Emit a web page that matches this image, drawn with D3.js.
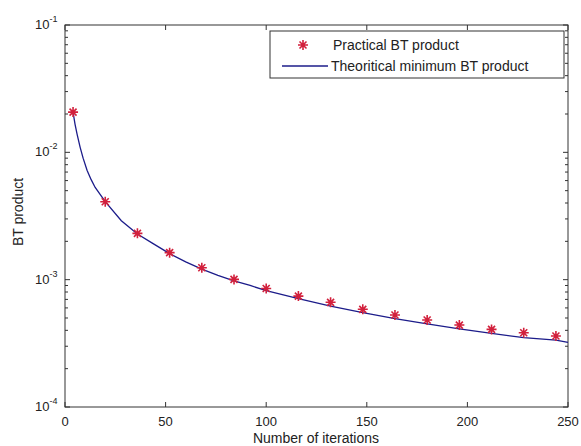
<!DOCTYPE html>
<html lang="en">
<head>
    <meta charset="utf-8"/>
    <title>BT product</title>
    <script src="https://d3js.org/d3.v7.min.js"></script>
    <style>
        body { margin: 0; background: #fff; }
        text { font-family: "Liberation Sans", Arial, sans-serif; font-size: 13px; fill: #222; }
        .title { font-size: 14px; }
    </style>
</head>
<body>
<svg id="chart" width="581" height="446"></svg>
<script>
    // practical points (red asterisks)
    const practicalX = [4, 20, 36, 52, 68, 84, 100, 116, 132, 148, 164, 180, 196, 212, 228, 244];
    const practicalY = [0.0207, 0.00409, 0.00231, 0.00163, 0.00124, 0.001005, 0.000853, 0.000743,
        0.000664, 0.000585, 0.000528, 0.000482, 0.00044, 0.000407, 0.000383, 0.000361];

    // theoretical minimum curve (blue line)
    const theoryX = [4, 5, 6, 7.5, 9, 11, 13, 15, 20, 28, 36, 44, 52, 60, 68, 76, 84, 92, 100,
        116, 132, 148, 164, 180, 196, 212, 228, 244, 250];
    const theoryY = [0.0207, 0.0166, 0.0139, 0.0110, 0.0090, 0.0072, 0.0061, 0.0053, 0.0041, 0.0029, 0.00228,
        0.00191, 0.0016, 0.00138, 0.00121, 0.00108, 0.00098, 0.0009, 0.00082,
        0.00071, 0.00062, 0.00055, 0.000495, 0.00045, 0.00041, 0.000378, 0.00035, 0.000335, 0.000322];

    const xTicks = [0, 50, 100, 150, 200, 250];
    const yDecades = [-4, -3, -2, -1];

    const svg = d3.select("#chart");
    // plot box edges in pixels
    const plotL = 65, plotT = 25, plotR = 568, plotB = 407;

    const x = d3.scaleLinear().domain([0, 250]).range([plotL, plotR]);
    const y = d3.scaleLog().domain([1e-4, 1e-1]).range([plotB, plotT]);

    const lineColor = "#1c1c8a";
    const markColor = "#d2203c";

    // minor ticks for the log axis
    const minor = [];
    yDecades.slice(0, 3).forEach(e => {
        for (let m = 2; m <= 9; m++) minor.push(m * Math.pow(10, e));
    });

    const g = svg.append("g");

    // ticks, inward on every side
    xTicks.forEach(t => {
        g.append("line").attr("x1", x(t)).attr("x2", x(t)).attr("y1", plotB).attr("y2", plotB - 5)
            .attr("stroke", "#333");
        g.append("line").attr("x1", x(t)).attr("x2", x(t)).attr("y1", plotT).attr("y2", plotT + 5)
            .attr("stroke", "#333");
        g.append("text").attr("x", x(t)).attr("y", 426).attr("text-anchor", "middle").text(t);
    });
    minor.forEach(v => {
        g.append("line").attr("x1", plotL).attr("x2", plotL + 3).attr("y1", y(v)).attr("y2", y(v)).attr("stroke", "#333");
        g.append("line").attr("x1", plotR).attr("x2", plotR - 3).attr("y1", y(v)).attr("y2", y(v)).attr("stroke", "#333");
    });
    yDecades.forEach(e => {
        const v = Math.pow(10, e);
        g.append("line").attr("x1", plotL).attr("x2", plotL + 5).attr("y1", y(v)).attr("y2", y(v)).attr("stroke", "#333");
        g.append("line").attr("x1", plotR).attr("x2", plotR - 5).attr("y1", y(v)).attr("y2", y(v)).attr("stroke", "#333");
        const t = g.append("text").attr("x", 35).attr("y", y(v) + 4);
        t.append("tspan").text("10");
        t.append("tspan").attr("dy", -7).style("font-size", "9px").text(e);
    });

    // plot box
    g.append("rect").attr("x", plotL).attr("y", plotT).attr("width", plotR - plotL).attr("height", plotB - plotT)
        .attr("fill", "none").attr("stroke", "#333");

    // theoretical line
    const pts = theoryX.map((d, i) => [d, theoryY[i]]);
    g.append("path").datum(pts)
        .attr("d", d3.line().x(d => x(d[0])).y(d => y(d[1])))
        .attr("fill", "none").attr("stroke", lineColor).attr("stroke-width", 1.3);

    // asterisk marker
    const star = "M-5,0L5,0M0,-5L0,5M-3.5,-3.5L3.5,3.5M-3.5,3.5L3.5,-3.5";
    practicalX.forEach((d, i) => {
        g.append("path").attr("d", star)
            .attr("transform", `translate(${x(d)},${y(practicalY[i])})`)
            .attr("stroke", markColor).attr("stroke-width", 1.6).attr("fill", "none");
    });

    // legend
    const lg = svg.append("g");
    lg.append("rect").attr("x", 270).attr("y", 31).attr("width", 294).attr("height", 47)
        .attr("fill", "#fff").attr("stroke", "#333");
    lg.append("path").attr("d", star).attr("transform", "translate(303,45)")
        .attr("stroke", markColor).attr("stroke-width", 1.6).attr("fill", "none");
    lg.append("text").attr("class", "title").attr("x", 333).attr("y", 50).text("Practical BT product");
    lg.append("line").attr("x1", 282).attr("x2", 328).attr("y1", 66).attr("y2", 66)
        .attr("stroke", lineColor).attr("stroke-width", 1.3);
    lg.append("text").attr("class", "title").attr("x", 331).attr("y", 71).text("Theoritical minimum BT product");

    // axis titles
    svg.append("text").attr("class", "title").attr("x", 316).attr("y", 443).attr("text-anchor", "middle")
        .text("Number of iterations");
    svg.append("text").attr("class", "title").attr("transform", `translate(23,212) rotate(-90)`)
        .attr("text-anchor", "middle").text("BT product");
</script>
</body>
</html>
